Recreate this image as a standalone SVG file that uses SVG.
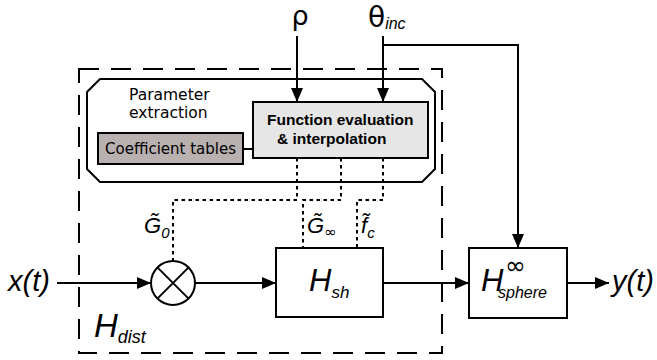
<svg xmlns="http://www.w3.org/2000/svg" width="657" height="360" viewBox="0 0 657 360">
<style>
.ln{fill:none;stroke:#000;stroke-width:2}
.dash{fill:none;stroke:#000;stroke-width:2;stroke-dasharray:20 12}
.dot{fill:none;stroke:#000;stroke-width:2;stroke-dasharray:3.5 3.5}
.it{font-family:"Liberation Sans",Arial,sans-serif;font-style:italic}
.dj{font-family:"DejaVu Sans",sans-serif}
</style>
<defs>
<marker id="ahL" viewBox="0 0 14 12" refX="14" refY="6" markerWidth="14" markerHeight="12" markerUnits="userSpaceOnUse" orient="auto">
<path d="M0,0 L14,6 L0,12 z" fill="#000"/>
</marker>
</defs>
<rect fill="#fff" x="0" y="0" width="657" height="360"/>

<g id="hdist">
<rect class="dash" x="79" y="69" width="363" height="284"/>
<text class="it" x="94" y="337" font-size="33">H<tspan font-size="18" dy="6">dist</tspan></text>
</g>

<g id="param-extraction">
<path class="ln" d="M100,79 L422,79 L435,92 L435,169 L422,182 L100,182 L87,169 L87,92 Z"/>
<text class="dj" font-size="15.5" fill="#000"><tspan x="129" y="100">Parameter</tspan><tspan x="129" y="118">extraction</tspan></text>
</g>

<g id="coeff">
<rect x="98" y="133" width="145" height="31" fill="#b8b1af" stroke="#000" stroke-width="2"/>
<text class="dj" x="170.5" y="154" font-size="15" text-anchor="middle">Coefficient tables</text>
</g>

<g id="func">
<rect x="253" y="102" width="175" height="56" fill="#e6e6e6" stroke="#000" stroke-width="2"/>
<text font-family="Liberation Sans,Arial,sans-serif" font-weight="bold" font-size="15.5"><tspan x="267" y="125">Function evaluation</tspan><tspan x="277" y="144">&amp; interpolation</tspan></text>
</g>

<g id="mult">
<circle class="ln" cx="173" cy="283" r="22"/>
<path class="ln" d="M157.4,267.4 L188.6,298.6 M188.6,267.4 L157.4,298.6"/>
</g>

<g id="hsh">
<rect class="ln" x="276" y="248" width="107" height="69"/>
<text class="it" x="309" y="291" font-size="31">H<tspan font-size="17" dy="7">sh</tspan></text>
</g>

<g id="hsphere">
<rect class="ln" x="469" y="248" width="98" height="70"/>
<text class="it" x="481" y="291" font-size="31">H</text>
<text class="dj" x="505" y="274" font-size="25">∞</text>
<text class="it" x="498" y="298" font-size="16">sphere</text>
</g>

<g id="labels">
<text class="dj" x="300" y="25" font-size="27" text-anchor="middle">ρ</text>
<text class="dj" x="368" y="27" font-size="28">θ<tspan class="it" font-size="16" dy="2">inc</tspan></text>
<text class="it" x="8" y="291" font-size="29">x(t)</text>
<text class="it" x="612" y="291" font-size="29">y(t)</text>
<text class="it" x="144" y="233" font-size="22">G̃<tspan font-size="15" dy="5">0</tspan></text>
<text class="it" x="307" y="233" font-size="22">G̃<tspan class="dj" font-style="normal" font-size="15" dy="4">∞</tspan></text>
<text class="it" x="361" y="233" font-size="22">f̃<tspan font-size="15" dy="5">c</tspan></text>
</g>

<g id="connectors">
<line class="ln" x1="297" y1="36" x2="297" y2="102" marker-end="url(#ahL)"/>
<line class="ln" x1="383" y1="36" x2="383" y2="102" marker-end="url(#ahL)"/>
<polyline class="ln" points="383,45 518,45 518,248" marker-end="url(#ahL)"/>
<line class="ln" x1="243" y1="149" x2="253" y2="149"/>
<polyline class="dot" points="297,158 297,200 173,200 173,261"/>
<polyline class="dot" points="341,158 341,200 303,200 303,248"/>
<polyline class="dot" points="383,158 383,200 357,200 357,248"/>
<line class="ln" x1="57" y1="283" x2="151" y2="283" marker-end="url(#ahL)"/>
<line class="ln" x1="195" y1="283" x2="276" y2="283" marker-end="url(#ahL)"/>
<line class="ln" x1="383" y1="283" x2="469" y2="283" marker-end="url(#ahL)"/>
<line class="ln" x1="567" y1="283" x2="609" y2="283" marker-end="url(#ahL)"/>
</g>
</svg>
